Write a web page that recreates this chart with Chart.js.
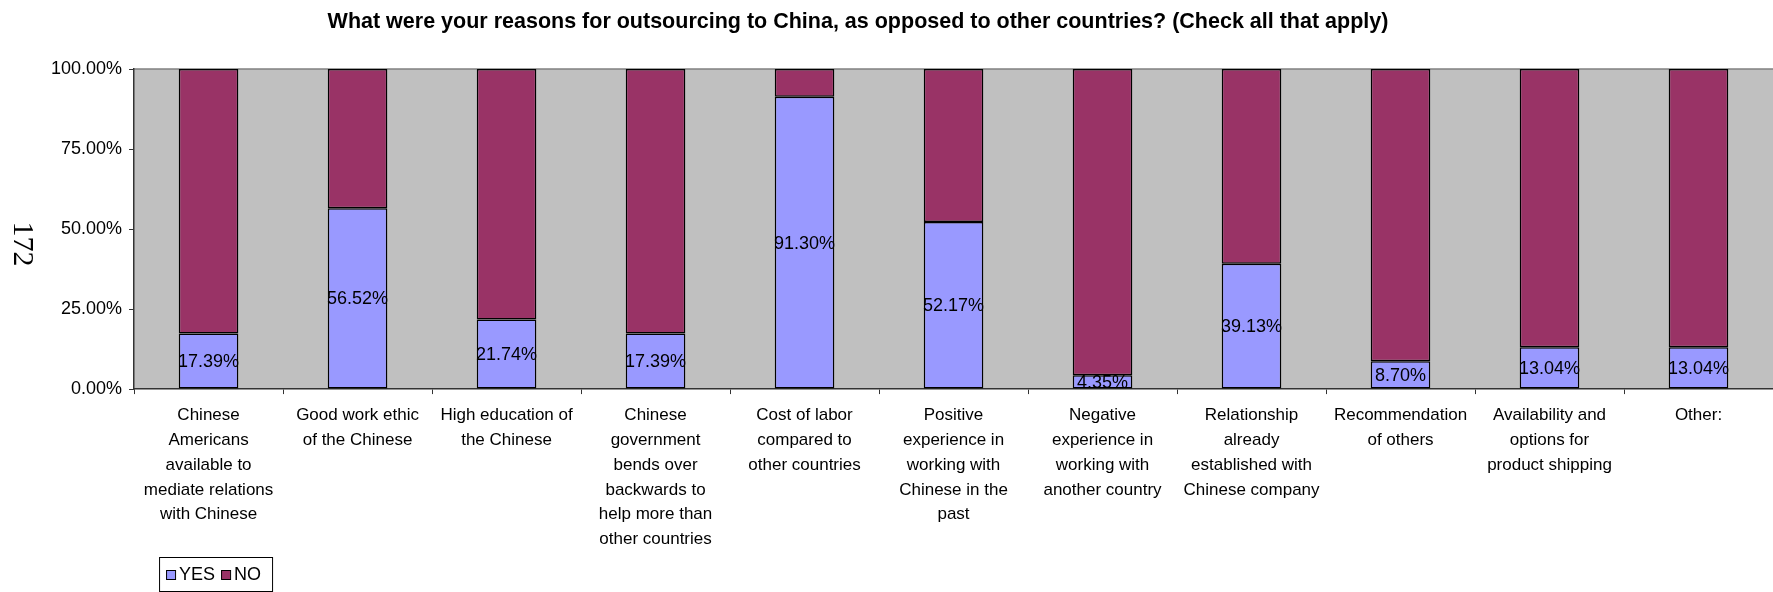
<!DOCTYPE html>
<html>
<head>
<meta charset="utf-8">
<script src="https://cdn.jsdelivr.net/npm/chart.js@4/dist/chart.umd.min.js"></script>
<style>
  html, body { margin: 0; padding: 0; background: #fff; }
  #wrap { position: relative; width: 1773px; height: 592px; }
</style>
</head>
<body>
<div id="wrap"><canvas id="chart"></canvas></div>
<script>
// survey question: reasons for outsourcing to China
const chartTitle = 'What were your reasons for outsourcing to China, as opposed to other countries? (Check all that apply)';
const pageNumber = '172';

// category labels, one array per wrapped label
const categories = [
    ['Chinese', 'Americans', 'available to', 'mediate relations', 'with Chinese'],
    ['Good work ethic', 'of the Chinese'],
    ['High education of', 'the Chinese'],
    ['Chinese', 'government', 'bends over', 'backwards to', 'help more than', 'other countries'],
    ['Cost of labor', 'compared to', 'other countries'],
    ['Positive', 'experience in', 'working with', 'Chinese in the', 'past'],
    ['Negative', 'experience in', 'working with', 'another country'],
    ['Relationship', 'already', 'established with', 'Chinese company'],
    ['Recommendation', 'of others'],
    ['Availability and', 'options for', 'product shipping'],
    ['Other:']
];

// percent of respondents
const yesValues = [17.39, 56.52, 21.74, 17.39, 91.30, 52.17, 4.35, 39.13, 8.70, 13.04, 13.04];
const noValues = [82.61, 43.48, 78.26, 82.61, 8.70, 47.83, 95.65, 60.87, 91.30, 86.96, 86.96];

const yTicks = [0, 25, 50, 75, 100];

const FONT = "'Liberation Sans', Arial, sans-serif";

// grey plot background plus the thin frame line on top
const plotBackground = {
    id: 'plotBackground',
    beforeDraw(chart) {
        const { ctx, chartArea: a } = chart;
        ctx.save();
        ctx.fillStyle = '#C0C0C0';
        ctx.fillRect(a.left, a.top, a.right - a.left, a.bottom - a.top);
        ctx.strokeStyle = '#808080';
        ctx.lineWidth = 1.5;
        ctx.beginPath();
        ctx.moveTo(a.left, a.top);
        ctx.lineTo(a.right, a.top);
        ctx.stroke();
        ctx.restore();
    }
};

// percentage text centred in each YES segment
const yesLabels = {
    id: 'yesLabels',
    afterDatasetsDraw(chart) {
        const { ctx } = chart;
        const meta = chart.getDatasetMeta(0);
        const data = chart.data.datasets[0].data;
        ctx.save();
        ctx.font = '18px ' + FONT;
        ctx.fillStyle = '#000';
        ctx.textAlign = 'center';
        ctx.textBaseline = 'middle';
        meta.data.forEach((bar, i) => {
            const { x, y, base } = bar.getProps(['x', 'y', 'base'], true);
            ctx.fillText(data[i].toFixed(2) + '%', x, (y + base) / 2 + 1);
        });
        ctx.restore();
    }
};

// title, side page number and boxed legend
const decorations = {
    id: 'decorations',
    afterDraw(chart) {
        const { ctx, chartArea: a } = chart;
        ctx.save();

        ctx.font = 'bold 21.5px ' + FONT;
        ctx.fillStyle = '#000';
        ctx.textAlign = 'center';
        ctx.textBaseline = 'middle';
        ctx.fillText(chartTitle, 858, 22);

        ctx.save();
        ctx.translate(22, 244);
        ctx.rotate(Math.PI / 2);
        ctx.font = "30px 'Liberation Serif', 'Times New Roman', serif";
        ctx.fillText(pageNumber, 0, 0);
        ctx.restore();

        // legend box
        const lx = a.left + 25, ly = 557, lw = 113, lh = 34;
        ctx.fillStyle = '#fff';
        ctx.fillRect(lx, ly, lw, lh);
        ctx.strokeStyle = '#000';
        ctx.lineWidth = 1;
        ctx.strokeRect(lx + 0.5, ly + 0.5, lw, lh);

        ctx.font = '18px ' + FONT;
        ctx.textAlign = 'left';
        let x = lx + 7;
        const cy = ly + lh / 2 + 1;
        chart.data.datasets.forEach(ds => {
            ctx.fillStyle = ds.backgroundColor;
            ctx.fillRect(x, cy - 5, 9, 9);
            ctx.strokeStyle = '#000';
            ctx.strokeRect(x + 0.5, cy - 4.5, 9, 9);
            ctx.fillStyle = '#000';
            ctx.fillText(ds.label, x + 13, cy);
            x += 13 + ctx.measureText(ds.label).width + 6;
        });
        ctx.restore();
    }
};

new Chart(document.getElementById('chart'), {
    type: 'bar',
    data: {
        labels: categories,
        datasets: [
            { label: 'YES', data: yesValues, backgroundColor: '#9999FF', borderColor: '#000', borderWidth: 1.5, borderSkipped: false },
            { label: 'NO', data: noValues, backgroundColor: '#993366', borderColor: '#000', borderWidth: 1.5, borderSkipped: false }
        ]
    },
    options: {
        responsive: true,
        maintainAspectRatio: false,
        animation: false,
        layout: { padding: { top: 69, left: 44, right: 0, bottom: 31 } },
        datasets: { bar: { categoryPercentage: 1, barPercentage: 0.4 } },
        scales: {
            x: {
                stacked: true,
                grid: { offset: true, drawOnChartArea: false, drawTicks: true, tickLength: 5, color: '#333' },
                border: { color: '#333', width: 1.5 },
                ticks: {
                    autoSkip: false, maxRotation: 0, minRotation: 0, padding: 9,
                    color: '#000', font: { family: FONT, size: 17, lineHeight: 1.46 }
                }
            },
            y: {
                stacked: true,
                min: 0, max: 100,
                afterBuildTicks: axis => { axis.ticks = yTicks.map(v => ({ value: v })); },
                grid: { drawOnChartArea: false, drawTicks: true, tickLength: 5, color: '#333' },
                border: { color: '#333', width: 1.5 },
                ticks: {
                    padding: 7, color: '#000',
                    font: { family: FONT, size: 18 },
                    callback: v => v.toFixed(2) + '%'
                }
            }
        },
        plugins: {
            legend: { display: false },
            title: { display: false },
            tooltip: { enabled: false }
        }
    },
    plugins: [plotBackground, yesLabels, decorations]
});
</script>
</body>
</html>
